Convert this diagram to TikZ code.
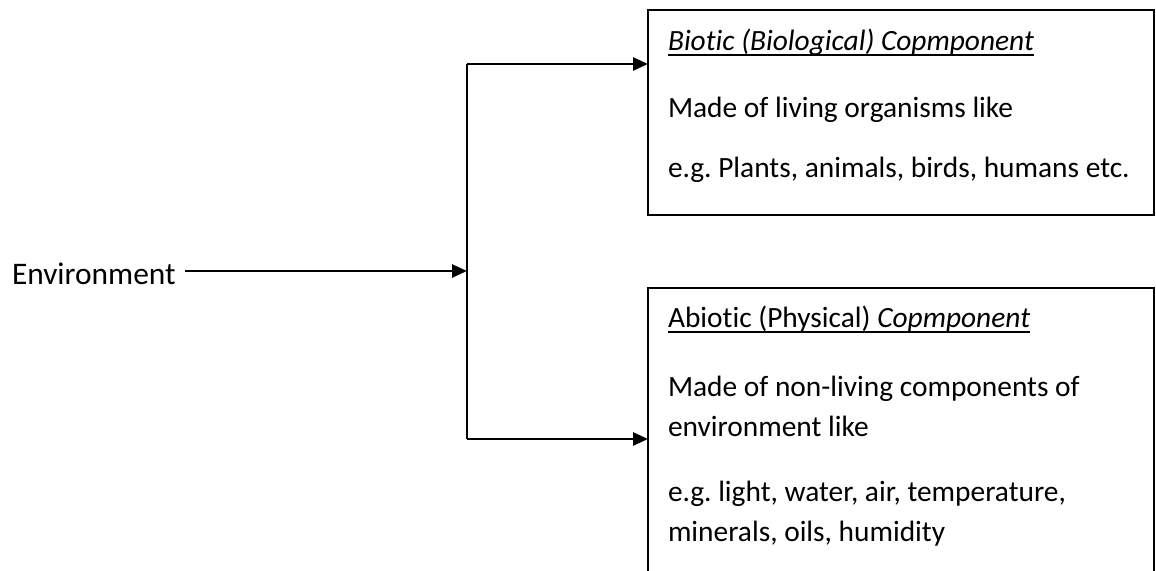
\documentclass[tikz,border=0pt]{standalone}
\usepackage{fontspec}
\setmainfont[RawFeature={-liga;-clig;-calt;-dlig}]{Carlito}
\usetikzlibrary{arrows.meta}
\tikzset{
  txt/.style={font=\fontsize{14.7pt}{19pt}\selectfont\frenchspacing, inner sep=0pt, outer sep=0pt, anchor=base west},
  bigtxt/.style={txt, font=\fontsize{15.7pt}{20pt}\selectfont},
  boxnode/.style={draw, line width=1pt, rectangle, inner sep=0pt, outer sep=0pt},
  uline/.style={line width=0.7pt},
  conn/.style={line width=1.3pt},
  arr/.style={conn, -{Triangle[length=7.5pt,width=6.5pt]}}
}
\begin{document}
\begin{tikzpicture}[x=0.5pt,y=-0.5pt]
\clip (0,0) rectangle (1156,571);
\fill[white] (0,0) rectangle (1156,571);
% boxes
\node[boxnode, minimum width=253pt, minimum height=102.5pt] (bio) at (901,112.5) {};
\node[boxnode, minimum width=253pt, minimum height=160pt] (abio) at (901,448) {};
% texts
\node[txt] (b1) at (668,51) {\itshape Biot\kern0pt ic (Biological) Copmponent};
\node[txt] (b2) at (668,118) {Made of living organisms like};
\node[txt] (b3) at (668,178) {e.g. Plants, animals, birds, humans etc.};
\node[txt] (a1) at (668,328) {Abiot\kern0pt ic (Physical) \itshape Copmponent};
\node[txt] (a2) at (668,397) {Made of non-living components of};
\node[txt] (a3) at (668,437) {environment like};
\node[txt] (a4) at (668,502) {e.g. light, water, air, temperature,};
\node[txt] (a5) at (668,541) {minerals, oils, humidity};
\node[bigtxt] (env) at (12,285) {Environment};
% underlines
\draw[uline] ([yshift=-2pt]b1.base west) -- ([yshift=-2pt]b1.base east);
\draw[uline] ([yshift=-2pt]a1.base west) -- ([yshift=-2pt]a1.base east);
% connectors
\coordinate (envout) at (185,271);
\coordinate (j) at (467,271);
\coordinate (jt) at (467,64);
\coordinate (jb) at (467,439);
\draw[arr] (envout) -- (j);
\draw[conn] (jt) -- (jb);
\draw[arr] (jt) -- (jt -| bio.west);
\draw[arr] (jb) -- (jb -| abio.west);
\end{tikzpicture}
\end{document}
